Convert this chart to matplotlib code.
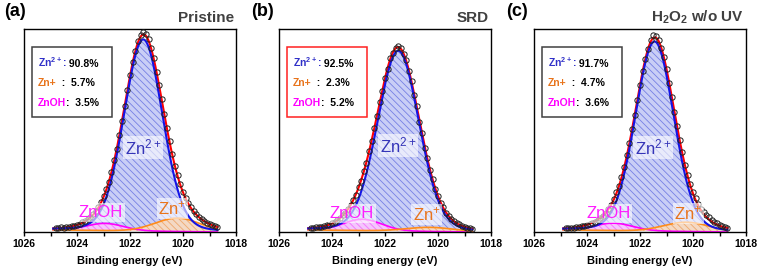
import numpy as np
import matplotlib
matplotlib.use('Agg')
import matplotlib.pyplot as plt
from matplotlib.patches import Rectangle
from matplotlib.ticker import MultipleLocator

plt.rcParams['font.family'] = ['Liberation Sans', 'DejaVu Sans']
plt.rcParams['mathtext.default'] = 'regular'
plt.rcParams['hatch.linewidth'] = 0.6

# Zn 2p3/2 spectra, binding energy 1024.8 -> 1018.7 eV in 0.1 eV steps
energy = np.round(np.arange(1024.8, 1018.65, -0.1), 1)

pristine = [.020, .018, .022, .021, .025, .026, .029, .031, .036, .040,
            .047, .054, .063, .073, .086, .103, .122, .146, .173, .208,
            .245, .292, .348, .404, .470, .538, .612, .688, .760, .826,
            .880, .925, .955, .972, .962, .935, .893, .842, .778, .712,
            .643, .572, .503, .440, .378, .322, .276, .232, .196, .166,
            .140, .121, .103, .088, .074, .063, .055, .046, .040, .033,
            .028, .023]
srd = [.020, .019, .023, .022, .026, .027, .033, .035, .043, .047,
       .058, .066, .082, .092, .112, .129, .157, .180, .217, .249,
       .296, .336, .394, .443, .507, .562, .632, .686, .749, .793,
       .842, .868, .894, .903, .893, .866, .834, .781, .734, .667,
       .610, .536, .479, .410, .359, .299, .257, .208, .177, .141,
       .121, .093, .079, .062, .055, .042, .037, .029, .026, .020,
       .020, .015]
h2o2 = [.019, .019, .020, .021, .023, .025, .027, .030, .033, .038,
        .043, .050, .058, .067, .079, .094, .111, .133, .158, .193,
        .224, .266, .317, .376, .433, .499, .569, .642, .714, .782,
        .841, .888, .930, .955, .949, .930, .894, .847, .789, .723,
        .655, .584, .514, .448, .390, .327, .276, .231, .193, .165,
        .134, .113, .096, .081, .071, .057, .049, .042, .036, .030,
        .025, .021]
spectra = [pristine, srd, h2o2]

panel_tags = ['(a)', '(b)', '(c)']
panel_titles = ['Pristine', 'SRD', 'H$_2$O$_2$ w/o UV']

# fitted components: center (eV), height, FWHM (eV)
zn2_center = [1021.5, 1021.5, 1021.45]
zn2_height = [0.93, 0.875, 0.92]
zn2_fwhm = [1.72, 1.85, 1.72]
znp_center = [1020.2, 1020.3, 1020.25]
znp_height = [0.065, 0.02, 0.045]
znp_fwhm = [2.0, 2.12, 2.0]
znoh_center = [1022.95, 1022.85, 1023.0]
znoh_height = [0.035, 0.055, 0.036]
znoh_fwhm = [1.65, 1.70, 1.68]
background = [0.010, 0.0]   # at the high / low BE end of the fit window
fit_range = [1024.9, 1018.7]

zn2_pct = ['90.8%', '92.5%', '91.7%']
znp_pct = ['5.7%', '2.3%', '4.7%']
znoh_pct = ['3.5%', '5.2%', '3.6%']
box_edge = ['#404040', '#ff2020', '#404040']

# in-plot label positions (eV, intensity)
lab_zn2 = [(1021.5, 0.41), (1021.5, 0.42), (1021.5, 0.41)]
lab_znoh = [(1023.1, 0.095), (1023.25, 0.09), (1023.2, 0.09)]
lab_znp = [(1020.4, 0.115), (1020.43, 0.085), (1020.18, 0.09)]


def pvoigt(x, c, fwhm, h, eta):
    sig = fwhm / 2.3548
    gam = fwhm / 2
    g = np.exp(-(x - c) ** 2 / (2 * sig ** 2))
    l = 1 / (1 + ((x - c) / gam) ** 2)
    return h * (eta * l + (1 - eta) * g)


fig = plt.figure(figsize=(7.6, 2.7), dpi=100)
lefts = [24, 279, 534]
x = np.linspace(fit_range[0], fit_range[1], 500)

for i in range(3):
    ax = fig.add_axes([lefts[i] / 760, 38 / 270, 212 / 760, 203 / 270])
    bg = np.interp(x, fit_range[::-1], background[::-1])
    p2 = pvoigt(x, zn2_center[i], zn2_fwhm[i], zn2_height[i], 0.12)
    p1 = pvoigt(x, znp_center[i], znp_fwhm[i], znp_height[i], 0.0)
    poh = pvoigt(x, znoh_center[i], znoh_fwhm[i], znoh_height[i], 0.0)

    ax.fill_between(x, bg, bg + p2, facecolor='#c9cef6', edgecolor='#7780e4',
                    hatch='\\\\\\\\\\', linewidth=0, zorder=1)
    ax.fill_between(x, bg, bg + poh, facecolor='#ffc4ff', edgecolor='#ff66ff',
                    hatch='\\\\\\\\\\', linewidth=0, alpha=0.8, zorder=1.2)
    ax.fill_between(x, bg, bg + p1, facecolor='#ffdcb8', edgecolor='#f7a55a',
                    hatch='\\\\\\\\\\', linewidth=0, alpha=0.8, zorder=1.2)
    ax.plot(x, bg + poh, color='#ff00ff', lw=1.2, zorder=2)
    ax.plot(x, bg + p1, color='#ff8c1a', lw=1.2, zorder=2)
    ax.plot(x, bg + p2 + p1 + poh, color='#ff0000', lw=1.5, zorder=2.5)
    ax.plot(x, bg + p2, color='#1414e6', lw=1.5, zorder=2.6)
    ax.plot(energy, spectra[i], 'o', mfc='none', mec='#202020', ms=3.8,
            mew=0.7, zorder=3)

    bb = dict(boxstyle='square,pad=0.1', fc='white', ec='none', alpha=0.6)
    ax.text(*lab_zn2[i], 'Zn$^{2+}$', color='#3535b8', fontsize=12,
            ha='center', va='center', bbox=bb, zorder=5)
    ax.text(*lab_znoh[i], 'ZnOH', color='#ff1cff', fontsize=12,
            ha='center', va='center', bbox=bb, zorder=5)
    ax.text(*lab_znp[i], 'Zn$^{+}$', color='#e8741c', fontsize=12,
            ha='center', va='center', bbox=bb, zorder=5)

    # composition box
    ax.add_patch(Rectangle((0.036, 0.565), 0.38, 0.345, transform=ax.transAxes,
                           fc='white', ec=box_edge[i], lw=1.1, zorder=6))
    rows = [('Zn$^{2+}$:', '#3030c8', ' ' + zn2_pct[i]),
            ('Zn+', '#e8741c', '  :  ' + znp_pct[i]),
            ('ZnOH', '#ff00ff', ':  ' + znoh_pct[i])]
    for k, (name, col, val) in enumerate(rows):
        t = ax.text(0.065, 0.835 - 0.1 * k, name, color=col, fontsize=7.5,
                    fontweight='bold', transform=ax.transAxes, va='center',
                    zorder=7)
        ax.annotate(val, xy=(1, 0), xycoords=t, va='bottom', fontsize=7.5,
                    fontweight='bold', color='black', zorder=7)

    ax.set_xlim(1026, 1018)
    ax.set_ylim(0, 0.985)
    ax.set_yticks([])
    ax.set_xticks([1026, 1024, 1022, 1020, 1018])
    ax.xaxis.set_minor_locator(MultipleLocator(1))
    ax.tick_params(axis='x', which='both', direction='out', length=3, width=1,
                   labelsize=7.5, pad=2)
    for lab in ax.get_xticklabels():
        lab.set_fontweight('bold')
    for sp in ax.spines.values():
        sp.set_linewidth(1.0)
    ax.set_xlabel('Binding energy (eV)', fontsize=8, fontweight='bold',
                  labelpad=5)
    ax.text(0.99, 1.036, panel_titles[i], transform=ax.transAxes, ha='right',
            va='baseline', fontsize=11, fontweight='bold', color='#404040')

fig.text(4 / 760, 1 - 3 / 270, '(a)', fontsize=13, fontweight='bold', va='top')
fig.text(251 / 760, 1 - 3 / 270, '(b)', fontsize=13, fontweight='bold', va='top')
fig.text(506 / 760, 1 - 3 / 270, '(c)', fontsize=13, fontweight='bold', va='top')

fig.savefig('out.png', dpi=100)
